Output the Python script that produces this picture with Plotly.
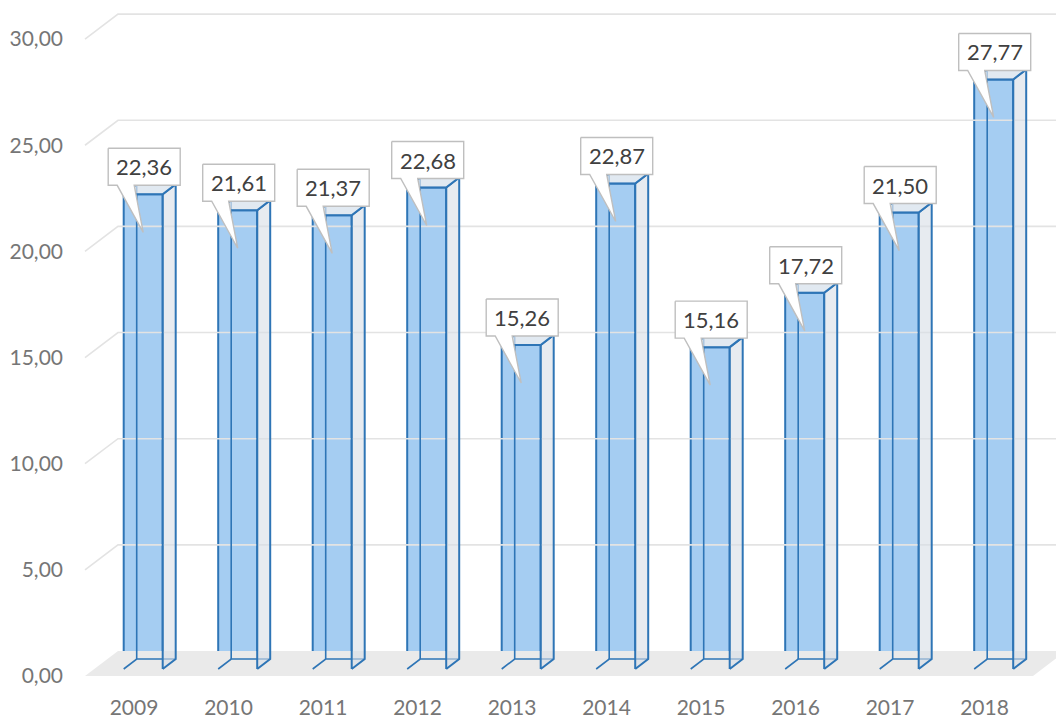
import plotly.graph_objects as go

# ---------------- data ----------------
years = ["2009", "2010", "2011", "2012", "2013", "2014", "2015", "2016", "2017", "2018"]
values = [22.36, 21.61, 21.37, 22.68, 15.26, 22.87, 15.16, 17.72, 21.50, 27.77]
y_ticks = [0, 5, 10, 15, 20, 25, 30]

# ---------------- geometry (pixel based, converted to axis units) ----------------
W, H = 1056, 718
ML, MR, MT, MB = 70, 0, 0, 30
PX_X = 94.5      # pixels per category
PX_Y = 21.23     # pixels per value unit
X0_PIX = 134     # pixel x of first category (front plane)
Y0_PIX = 676     # pixel y of value 0 (front plane)

x_range = [(ML - X0_PIX) / PX_X, (W - MR - X0_PIX) / PX_X]
y_range = [(Y0_PIX - (H - MB)) / PX_Y, (Y0_PIX - MT) / PX_Y]


def dx(p):
    return p / PX_X


def dy(p):
    return p / PX_Y


# walls / floor
wall_x0 = dx(85 - X0_PIX)
wall_x1 = dx(1033 - X0_PIX)
wall_ddx, wall_ddy = dx(33), dy(25)

# bars
bar_shift = dx(9.2)
bar_half = dx(19.5)
bar_base = dy(7)
bar_ddx, bar_ddy = dx(13), dy(10)

BLUE = "#2E75B6"
GRID = "#E3E3E3"
FONT = "Lato"

fig = go.Figure()

# floor
fig.add_trace(go.Scatter(
    x=[wall_x0, wall_x1, wall_x1 + wall_ddx, wall_x0 + wall_ddx, wall_x0],
    y=[0, 0, wall_ddy, wall_ddy, 0],
    fill="toself", fillcolor="#EAEAEA", mode="lines",
    line=dict(width=0, color="#EAEAEA"), hoverinfo="skip", showlegend=False))

# gridlines (front edge diagonal + back wall)
gx, gy = [], []
for t in y_ticks[1:]:
    gx += [wall_x0, wall_x0 + wall_ddx, x_range[1] + 1, None]
    gy += [t, t + wall_ddy, t + wall_ddy, None]
fig.add_trace(go.Scatter(x=gx, y=gy, mode="lines", line=dict(color=GRID, width=1.6),
                         hoverinfo="skip", showlegend=False))

# hidden back edges of the bars (seen through the translucent front)
ix, iy = [], []
for i, v in enumerate(values):
    cx = i + bar_shift
    fx0, fx1 = cx - bar_half, cx + bar_half
    top = bar_base + v
    ix += [fx0, fx0 + bar_ddx, fx1 + bar_ddx, None,
           fx0 + bar_ddx, fx0 + bar_ddx, None]
    iy += [bar_base, bar_base + bar_ddy, bar_base + bar_ddy, None,
           bar_base + bar_ddy, top + bar_ddy, None]
fig.add_trace(go.Scatter(x=ix, y=iy, mode="lines", line=dict(color=BLUE, width=1.6),
                         hoverinfo="skip", showlegend=False))

# front faces
fig.add_trace(go.Bar(
    x=[i + bar_shift for i in range(len(values))], y=values, base=bar_base,
    width=2 * bar_half,
    marker=dict(color="rgba(105,172,233,0.6)", line=dict(color=BLUE, width=2)),
    hoverinfo="skip", showlegend=False))

# side and top faces
for i, v in enumerate(values):
    cx = i + bar_shift
    fx0, fx1 = cx - bar_half, cx + bar_half
    top = bar_base + v
    fig.add_trace(go.Scatter(
        x=[fx1, fx1 + bar_ddx, fx1 + bar_ddx, fx1, fx1],
        y=[bar_base, bar_base + bar_ddy, top + bar_ddy, top, bar_base],
        fill="toself", fillcolor="rgba(215,222,230,0.6)", mode="lines",
        line=dict(color=BLUE, width=2), hoverinfo="skip", showlegend=False))
    fig.add_trace(go.Scatter(
        x=[fx0, fx0 + bar_ddx, fx1 + bar_ddx, fx1, fx0],
        y=[top, top + bar_ddy, top + bar_ddy, top, top],
        fill="toself", fillcolor="rgba(215,225,236,0.75)", mode="lines",
        line=dict(color=BLUE, width=2), hoverinfo="skip", showlegend=False))

# callout labels
BOX_W, BOX_H = 72, 37
for i, v in enumerate(values):
    cx = i + bar_shift + dx(1)
    top = bar_base + v
    L, R = cx - dx(BOX_W / 2), cx + dx(BOX_W / 2)
    B = top + dy(9)
    T = B + dy(BOX_H)
    tip_x, tip_y = L + dx(35), top - dy(38)
    fig.add_trace(go.Scatter(
        x=[L, R, R, L + dx(26), tip_x, L + dx(9), L, L],
        y=[T, T, B, B, tip_y, B, B, T],
        fill="toself", fillcolor="white", mode="lines",
        line=dict(color="#BFBFBF", width=1.4), hoverinfo="skip", showlegend=False))
    fig.add_annotation(x=cx, y=(B + T) / 2, text=f"{v:.2f}".replace(".", ","),
                       showarrow=False, font=dict(family=FONT, size=22, color="#404040"),
                       xanchor="center", yanchor="middle")

fig.update_layout(
    width=W, height=H,
    margin=dict(l=ML, r=MR, t=MT, b=MB, autoexpand=False),
    paper_bgcolor="white", plot_bgcolor="white",
    separators=", ",
    showlegend=False,
    bargap=0,
    hovermode=False,
    xaxis=dict(range=x_range, tickmode="array", tickvals=list(range(len(years))),
               ticktext=years, showgrid=False, zeroline=False, showline=False,
               ticks="", ticklabelstandoff=5,
               tickfont=dict(family=FONT, size=21, color="#767676"), fixedrange=True),
    yaxis=dict(range=y_range, tickmode="array", tickvals=y_ticks, tickformat=".2f",
               showgrid=False, zeroline=False, showline=False, ticks="",
               ticklabelstandoff=6,
               tickfont=dict(family=FONT, size=21, color="#767676"), fixedrange=True),
)

fig.write_html(
    "out.html",
    config={"displayModeBar": False, "staticPlot": True},
    post_script="document.body.style.margin='0';document.body.style.overflow='hidden';",
)
